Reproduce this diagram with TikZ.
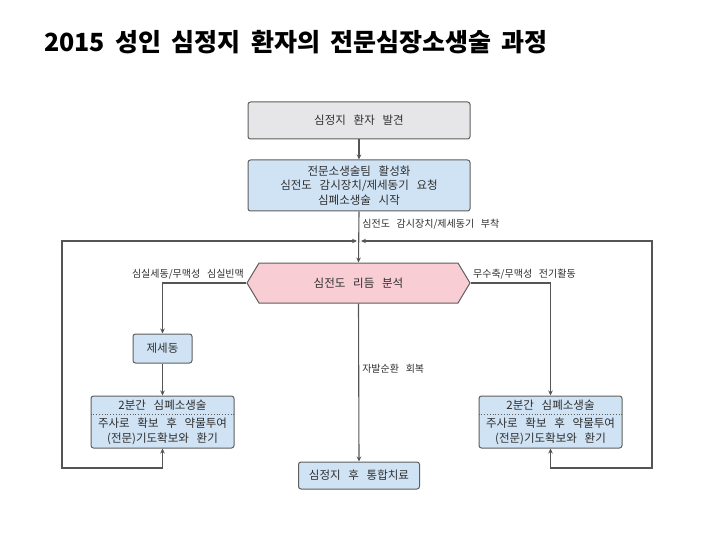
\documentclass[tikz,border=0pt]{standalone}
\usepackage{fontspec}
\setmainfont[WordSpace=3]{Noto Sans CJK KR}
\newfontfamily\titlefont[WordSpace=1.8]{Noto Sans CJK KR}
\usetikzlibrary{shapes.symbols,arrows.meta,calc}
\definecolor{boxline}{HTML}{5E5E5E}
\definecolor{conn}{HTML}{555555}
\definecolor{grayfill}{HTML}{E6E6E8}
\definecolor{bluefill}{HTML}{D0E3F4}
\definecolor{pinkfill}{HTML}{F8CDD4}
\definecolor{txt}{HTML}{2E2E2E}
\tikzset{
  box/.style={draw=boxline, line width=1pt, rounded corners=2.5pt, text=txt,
    font=\fontsize{11.5}{14.5}\selectfont, align=center, inner sep=0pt},
  graybox/.style={box, fill=grayfill},
  bluebox/.style={box, fill=bluefill},
  hexbox/.style={draw=boxline, line width=1pt, fill=pinkfill, text=txt,
    shape=signal, signal to=west and east, signal pointer angle=118,
    font=\fontsize{11.5}{14}\selectfont, inner sep=0pt},
  conn/.style={draw=conn, line width=1.1pt, -{Stealth[length=5pt,width=4.5pt]}},
  connboth/.style={draw=conn, line width=1.1pt, {Stealth[length=5pt,width=4.5pt]}-{Stealth[length=5pt,width=4.5pt]}},
  lbl/.style={font=\fontsize{10}{12}\selectfont, text=txt, inner sep=2pt},
}
\begin{document}
\begin{tikzpicture}[x=1pt,y=-1pt]
\useasboundingbox (0,0) rectangle (720,540);
\node[anchor=west, font=\titlefont\fontsize{25}{29}\selectfont\bfseries, inner sep=0pt] (title) at (44,42) {2015 성인 심정지 환자의 전문심장소생술 과정};

\node[graybox, minimum width=222, minimum height=37] (find) at (359,120.5) {심정지 환자 발견};
\node[bluebox, minimum width=222, minimum height=51] (team) at (359,185.5) {전문소생술팀 활성화\\심전도 감시장치/제세동기 요청\\심폐소생술 시작};
\node[hexbox, minimum width=223, minimum height=40] (hex) at (358.5,283) {심전도 리듬 분석};
\node[bluebox, minimum width=59, minimum height=29] (zds) at (162.5,348.5) {제세동};
\node[bluebox, minimum width=143, minimum height=52] (cprL) at (162.5,422) {2분간 심폐소생술\\[4pt]주사로 확보 후 약물투여\\(전문)기도확보와 환기};
\node[bluebox, minimum width=143, minimum height=52] (cprR) at (550.5,422) {2분간 심폐소생술\\[4pt]주사로 확보 후 약물투여\\(전문)기도확보와 환기};
\node[bluebox, minimum width=121, minimum height=27] (final) at (359,475.5) {심정지 후 통합치료};

\draw[dotted, draw=boxline, line width=0.8pt] ($(cprL.north west)!0.365!(cprL.south west)$) -- ($(cprL.north east)!0.365!(cprL.south east)$);
\draw[dotted, draw=boxline, line width=0.8pt] ($(cprR.north west)!0.365!(cprR.south west)$) -- ($(cprR.north east)!0.365!(cprR.south east)$);

\coordinate (jL) at (357,241);
\coordinate (jR) at (361,241);
\coordinate (cornL) at (62,468);
\coordinate (cornR) at (652,468);
\coordinate (topL) at (62,241);
\coordinate (topR) at (652,241);

\draw[conn] (find) -- (team);
\draw[conn] (team.south) -- node[lbl, pos=0.25, anchor=west, xshift=1pt] {심전도 감시장치/제세동기 부착} (hex.north);
\draw[conn] (hex.west) -| node[lbl, pos=0, anchor=south east, yshift=1pt] {심실세동/무맥성 심실빈맥} (zds.north);
\draw[conn] (zds) -- (cprL);
\draw[conn] (hex.east) -| node[lbl, pos=0, anchor=south west, yshift=1pt] {무수축/무맥성 전기활동} (cprR.north);
\draw[conn] (hex.south) -- node[lbl, pos=0.41, anchor=west, xshift=1pt] {자발순환 회복} (final.north);
\draw[connboth] (cprL.south) |- (cornL) -- (topL) -- (jL);
\draw[connboth] (cprR.south) |- (cornR) -- (topR) -- (jR);
\end{tikzpicture}
\end{document}
